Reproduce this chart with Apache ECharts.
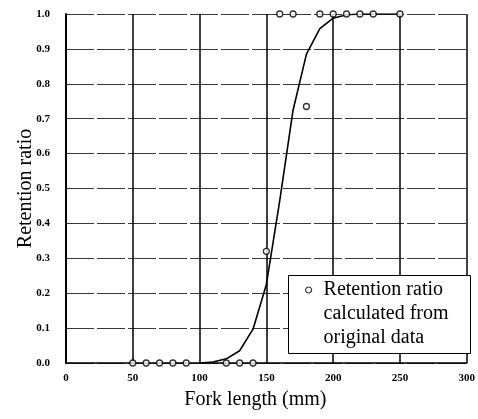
<!DOCTYPE html>
<html>
<head>
<meta charset="utf-8">
<script src="https://cdn.jsdelivr.net/npm/echarts@6/dist/echarts.min.js"></script>
<style>html,body{margin:0;padding:0;background:#fff;}#c{width:478px;height:419px;}</style>
</head>
<body>
<div id="c"></div>
<script>
var xTicks = [0, 50, 100, 150, 200, 250, 300];
var yTicks = [0.0, 0.1, 0.2, 0.3, 0.4, 0.5, 0.6, 0.7, 0.8, 0.9, 1.0];
var curveX = [100, 110, 120, 130, 140, 150, 160, 170, 180, 190, 200, 210, 220, 250];
var curveY = [0, 0.003, 0.012, 0.035, 0.097, 0.225, 0.465, 0.725, 0.885, 0.958, 0.988, 0.998, 1.0, 1.0];
var obsX = [50, 60, 70, 80, 90, 120, 130, 140, 150, 160, 170, 180, 190, 200, 210, 220, 230, 250];
var obsY = [0, 0, 0, 0, 0, 0, 0, 0, 0.32, 1, 1, 0.735, 1, 1, 1, 1, 1, 1];
var legendName = 'Retention ratio\ncalculated from\noriginal data';

var serif = '"Liberation Serif", "DejaVu Serif", serif';
var chart = echarts.init(document.getElementById('c'));
chart.setOption({
  animation: false,
  backgroundColor: '#fff',
  grid: { left: 66, right: 10, top: 14, bottom: 56 },
  xAxis: {
    type: 'value', min: xTicks[0], max: xTicks[xTicks.length - 1], interval: 50,
    name: 'Fork length (mm)', nameLocation: 'middle', nameGap: 27,
    nameTextStyle: { fontFamily: serif, fontSize: 20, color: '#000', padding: [0, 22, 0, 0] },
    axisLine: { show: true, lineStyle: { color: '#000', width: 1.5 } },
    axisTick: { show: false },
    axisLabel: { fontFamily: serif, fontSize: 11, fontWeight: 'bold', color: '#000', margin: 10 },
    splitLine: { show: true, lineStyle: { color: '#000', width: 1.5 } }
  },
  yAxis: {
    type: 'value', min: yTicks[0], max: yTicks[yTicks.length - 1], interval: 0.1,
    name: 'Retention ratio', nameLocation: 'middle', nameGap: 30, nameMoveOverlap: false,
    nameTextStyle: { fontFamily: serif, fontSize: 20, color: '#000' },
    axisLine: { show: true, lineStyle: { color: '#000', width: 2 } },
    axisTick: { show: false },
    axisLabel: { fontFamily: serif, fontSize: 11, fontWeight: 'bold', color: '#000', margin: 16,
      formatter: function (v) { return v.toFixed(1); } },
    splitLine: { show: true, lineStyle: { color: '#3a3a3a', width: 1, type: [28, 3] } }
  },
  legend: {
    show: true, left: 305, top: 278, padding: 0,
    itemWidth: 13, itemHeight: 54, itemGap: 0,
    data: [{ name: legendName, icon: 'path://M0,3A3,3,0,1,1,6,3A3,3,0,1,1,0,3ZM13,54' }],
    itemStyle: { color: '#fff', borderColor: '#000', borderWidth: 1.2 },
    textStyle: { fontFamily: serif, fontSize: 20, color: '#000', lineHeight: 24 },
    selectedMode: false
  },
  graphic: [{
    type: 'rect', z: 3, left: 288, top: 275,
    shape: { width: 182, height: 78 },
    style: { fill: '#fff', stroke: '#000', lineWidth: 1 }
  }],
  series: [{
    type: 'line', name: 'curve', data: curveX.map(function (x, i) { return [x, curveY[i]]; }),
    showSymbol: false, symbol: 'none', smooth: false,
    lineStyle: { color: '#000', width: 1.6 }, z: 2
  }, {
    type: 'scatter', name: legendName, data: obsX.map(function (x, i) { return [x, obsY[i]]; }),
    symbol: 'circle', symbolSize: 6,
    itemStyle: { color: '#fff', borderColor: '#000', borderWidth: 1.3 }, z: 5
  }]
});
</script>
</body>
</html>
